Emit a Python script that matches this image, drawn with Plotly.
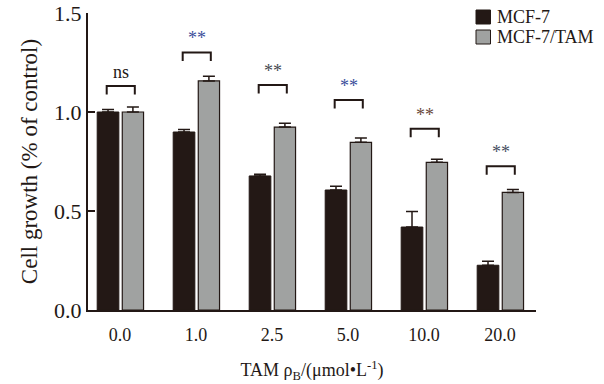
import plotly.graph_objects as go

categories = ["0.0", "1.0", "2.5", "5.0", "10.0", "20.0"]
series_names = ["MCF-7", "MCF-7/TAM"]
mcf7 = [1.00, 0.899, 0.677, 0.606, 0.419, 0.226]
mcf7_err = [0.012, 0.013, 0.009, 0.019, 0.079, 0.020]
tam = [1.00, 1.157, 0.924, 0.847, 0.746, 0.594]
tam_err = [0.025, 0.023, 0.019, 0.022, 0.015, 0.015]
sig_labels = ["ns", "**", "**", "**", "**", "**"]
bracket_tops = [1.131, 1.301, 1.136, 1.061, 0.916, 0.726]
yticks = [0.0, 0.5, 1.0, 1.5]
ytick_text = ["0.0", "0.5", "1.0", "1.5"]

FONT = "Liberation Serif, Times New Roman, serif"
BLACK = "#231815"
GRAY = "#a0a2a1"
SIG_COLORS = ["#231815", "#3a4f9a", "#454a50", "#3a4f9a", "#6a4a3a", "#454f60"]

xs = list(range(len(categories)))

fig = go.Figure()
fig.add_trace(go.Bar(
    x=xs, y=mcf7, name=series_names[0], width=0.285, offset=-0.30, showlegend=False,
    marker=dict(color=BLACK, line=dict(color=BLACK, width=1)),
    error_y=dict(type="data", symmetric=False, array=mcf7_err,
                 arrayminus=[0] * len(mcf7), color=BLACK, thickness=1.5, width=6),
))
fig.add_trace(go.Bar(
    x=xs, y=tam, name=series_names[1], width=0.28, offset=0.03, showlegend=False,
    marker=dict(color=GRAY, line=dict(color=BLACK, width=1.2)),
    error_y=dict(type="data", symmetric=False, array=tam_err,
                 arrayminus=[0] * len(tam), color=BLACK, thickness=1.5, width=6),
))

leg = 0.043
half = 0.185
for i, top in enumerate(bracket_tops):
    c = i + 0.01
    fig.add_shape(type="path",
                  path=f"M {c-half},{top-leg} L {c-half},{top} L {c+half},{top} L {c+half},{top-leg}",
                  xref="x", yref="y", line=dict(color=BLACK, width=2))
    fig.add_annotation(x=c, y=top, text=sig_labels[i], showarrow=False,
                       yanchor="bottom", yshift=2,
                       font=dict(family=FONT, size=18, color=SIG_COLORS[i]))

# manual legend (paper coords: plot area 88..536 px wide, 13..310 px tall)
PW, PH = 448.0, 297.0
def px(x):
    return (x - 88) / PW
def py(y):
    return (310 - y) / PH

legend_fill = [BLACK, GRAY]
for k, name in enumerate(series_names):
    top = 10 + 20 * k
    fig.add_shape(type="rect", xref="paper", yref="paper",
                  x0=px(476), x1=px(490.5), y0=py(top + 14), y1=py(top),
                  fillcolor=legend_fill[k], line=dict(color=BLACK, width=1))
    fig.add_annotation(xref="paper", yref="paper", x=px(495), y=py(top + 7),
                       text=name, showarrow=False, xanchor="left", yanchor="middle",
                       font=dict(family=FONT, size=18, color=BLACK))

fig.update_layout(
    width=604, height=384,
    margin=dict(l=88, r=68, t=13, b=74, autoexpand=False),
    paper_bgcolor="white", plot_bgcolor="white",
    font=dict(family=FONT, color=BLACK),
    barmode="overlay",
    showlegend=False,
    xaxis=dict(range=[-0.421, 5.474], tickmode="array", tickvals=xs, ticktext=categories,
               showgrid=False, zeroline=False, showline=True, linecolor=BLACK, linewidth=2,
               ticks="", tickfont=dict(family=FONT, size=18, color=BLACK),
               ticklabelstandoff=7, automargin=False,
               title=dict(text="TAM ρ<sub>B</sub>/(μmol•L<sup>-1</sup>)",
                          font=dict(family=FONT, size=18, color=BLACK), standoff=20)),
    yaxis=dict(range=[0, 1.5], tickmode="array", tickvals=yticks, ticktext=ytick_text,
               showgrid=False, zeroline=False, showline=True, linecolor=BLACK, linewidth=2,
               ticks="inside", ticklen=7, tickwidth=2, tickcolor=BLACK,
               tickfont=dict(family=FONT, size=22, color=BLACK), automargin=False,
               title=dict(text="Cell growth (% of control)",
                          font=dict(family=FONT, size=23, color=BLACK), standoff=10)),
)

fig.write_html("out.html", config={"displayModeBar": False},
               post_script="document.body.style.margin='0';document.body.style.overflow='hidden';")
